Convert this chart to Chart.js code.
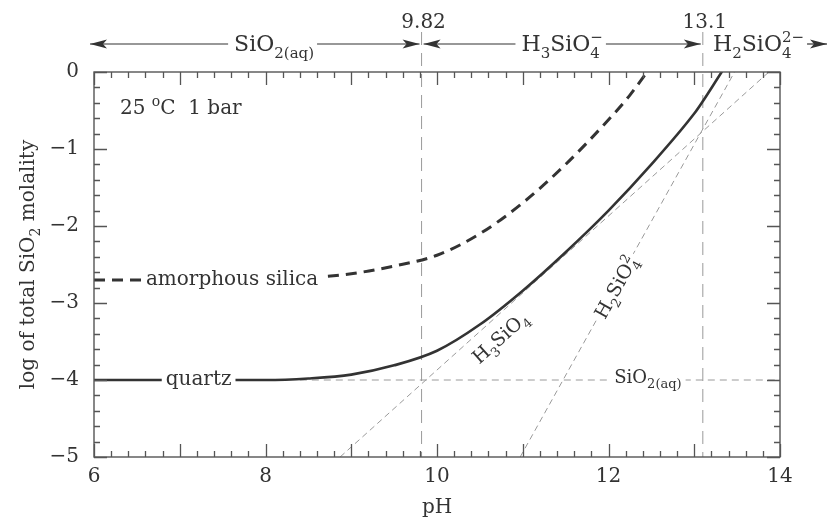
<!DOCTYPE html>
<html>
<head>
<meta charset="utf-8">
<script src="https://cdn.jsdelivr.net/npm/chart.js@4.4.1/dist/chart.umd.min.js"></script>
<style>
  html, body { margin: 0; padding: 0; background: #fff; }
  #wrap { width: 828px; height: 525px; }
</style>
</head>
<body>
<div id="wrap"><canvas id="c"></canvas></div>
<script>
// values: pH vs log of total SiO2 molality
var quartzPH     = [6, 7, 8, 8.5, 9, 9.5, 10, 10.5, 11, 11.5, 12, 12.5, 13, 13.1, 13.32, 13.5];
var quartzLogM   = [-4.0, -4.0, -4.0, -3.98, -3.93, -3.81, -3.62, -3.28, -2.84, -2.34, -1.8, -1.2, -0.54, -0.38, 0, 0.3];
var amorphPH     = [6, 7, 8, 8.5, 9, 9.5, 10, 10.5, 11, 11.5, 12, 12.25, 12.5];
var amorphLogM   = [-2.7, -2.7, -2.69, -2.67, -2.62, -2.52, -2.38, -2.1, -1.7, -1.2, -0.62, -0.3, 0.08];
var sio2aqPH     = [8.4, 14];
var sio2aqLogM   = [-4, -4];
var h3sio4PH     = [8.87, 13.87];
var h3sio4LogM   = [-5, 0];
var h2sio4PH     = [10.97, 13.47];
var h2sio4LogM   = [-5, 0];
var boundaryPH   = [9.82, 13.1];
var boundaryText = ['9.82', '13.1'];
var topLabelPH   = [8.1, 11.46, 13.75];
var xTicks       = [6, 8, 10, 12, 14];
var yTicks       = [-5, -4, -3, -2, -1, 0];

var SERIF = '"DejaVu Serif", serif';
var INK = '#333';
var GREY = '#9a9a9a';

function pts(xs, ys) {
  return xs.map(function(x, i) { return {x: x, y: ys[i]}; });
}

// parts: [[normal, subscript, superscript], ...]
function partsWidth(ctx, parts, size) {
  var w = 0;
  parts.forEach(function(p) {
    ctx.font = size + 'px ' + SERIF;
    w += ctx.measureText(p[0]).width;
    ctx.font = Math.round(size * 0.7) + 'px ' + SERIF;
    var a = p[1] ? ctx.measureText(p[1]).width : 0;
    var b = p[2] ? ctx.measureText(p[2]).width : 0;
    w += Math.max(a, b);
  });
  return w;
}

function drawRich(ctx, parts, x, y, size) {
  var small = Math.round(size * 0.7);
  parts.forEach(function(p) {
    ctx.font = size + 'px ' + SERIF;
    ctx.fillText(p[0], x, y);
    x += ctx.measureText(p[0]).width;
    ctx.font = small + 'px ' + SERIF;
    var a = 0, b = 0;
    if (p[1]) { ctx.fillText(p[1], x, y + size * 0.3); a = ctx.measureText(p[1]).width; }
    if (p[2]) { ctx.fillText(p[2], x, y - size * 0.42); b = ctx.measureText(p[2]).width; }
    x += Math.max(a, b);
  });
}

function drawRichCentered(ctx, parts, cx, y, size, bg) {
  var w = partsWidth(ctx, parts, size);
  if (bg) {
    ctx.fillStyle = '#fff';
    ctx.fillRect(cx - w / 2 - 4, y - size * 0.8, w + 8, size * 1.25);
  }
  ctx.fillStyle = INK;
  drawRich(ctx, parts, cx - w / 2, y, size);
  return w;
}

function arrowHead(ctx, x, y, dir) {
  ctx.beginPath();
  ctx.moveTo(x, y);
  ctx.lineTo(x - dir * 17, y - 4.5);
  ctx.lineTo(x - dir * 13, y);
  ctx.lineTo(x - dir * 17, y + 4.5);
  ctx.closePath();
  ctx.fill();
}

function hline(ctx, x1, x2, y) {
  ctx.beginPath(); ctx.moveTo(x1, y); ctx.lineTo(x2, y); ctx.stroke();
}

var decorPlugin = {
  id: 'decor',
  beforeDatasetsDraw: function(chart) {
    var ctx = chart.ctx, xs = chart.scales.x, ys = chart.scales.y;
    ctx.save();
    ctx.strokeStyle = GREY;
    ctx.lineWidth = 1;
    ctx.setLineDash([13, 8]);
    boundaryPH.forEach(function(v) {
      var x = xs.getPixelForValue(v);
      ctx.beginPath(); ctx.moveTo(x, 32); ctx.lineTo(x, ys.bottom); ctx.stroke();
    });
    ctx.restore();
  },
  afterDatasetsDraw: function(chart) {
    var ctx = chart.ctx, xs = chart.scales.x, ys = chart.scales.y;
    var X = function(v) { return xs.getPixelForValue(v); };
    var Y = function(v) { return ys.getPixelForValue(v); };
    ctx.save();
    ctx.setLineDash([]);
    ctx.textAlign = 'left';
    ctx.textBaseline = 'alphabetic';

    // frame and inward ticks
    ctx.strokeStyle = '#555';
    ctx.lineWidth = 1.4;
    ctx.strokeRect(xs.left, ys.top, xs.right - xs.left, ys.bottom - ys.top);
    ctx.lineWidth = 1.3;
    ctx.beginPath();
    for (var i = 0; i <= 40; i++) {
      var x = Math.round(X(6 + i * 0.2)) + 0.5, len = i % 5 === 0 ? 13 : 6;
      ctx.moveTo(x, ys.bottom); ctx.lineTo(x, ys.bottom - len);
      ctx.moveTo(x, ys.top); ctx.lineTo(x, ys.top + len);
    }
    for (var j = 0; j <= 25; j++) {
      var y = Math.round(Y(-5 + j * 0.2)) + 0.5, ln = j % 5 === 0 ? 13 : 6;
      ctx.moveTo(xs.left, y); ctx.lineTo(xs.left + ln, y);
      ctx.moveTo(xs.right, y); ctx.lineTo(xs.right - ln, y);
    }
    ctx.stroke();

    // curve labels
    drawRichCentered(ctx, [['quartz', '', '']], X(7.22), Y(-4) + 5, 20, true);
    drawRichCentered(ctx, [['amorphous silica', '', '']], X(7.61), Y(-2.7) + 5, 20, true);
    drawRichCentered(ctx, [['SiO', '2(aq)', '']], X(12.46), Y(-4) + 3, 18, true);
    ctx.fillStyle = INK;
    drawRich(ctx, [['25 ', '', 'o'], ['C  1 bar', '', '']], xs.left + 26, ys.top + 42, 20);

    var a3 = Math.atan2(Y(h3sio4LogM[1]) - Y(h3sio4LogM[0]), X(h3sio4PH[1]) - X(h3sio4PH[0]));
    ctx.save();
    ctx.translate(X(10.74), Y(-3.45));
    ctx.rotate(a3);
    drawRichCentered(ctx, [['H', '3', ''], ['SiO', '4', '']], 0, 6, 19, false);
    ctx.restore();

    var a2 = Math.atan2(Y(h2sio4LogM[1]) - Y(h2sio4LogM[0]), X(h2sio4PH[1]) - X(h2sio4PH[0]));
    ctx.save();
    ctx.translate(X(12.09), Y(-2.8));
    ctx.rotate(a2);
    drawRichCentered(ctx, [['H', '2', ''], ['SiO', '4', '2']], 0, 6, 19, true);
    ctx.restore();

    // species fields along the top
    var p0 = xs.left - 4, p1 = X(boundaryPH[0]), p2 = X(boundaryPH[1]);
    var ay = 44, ty = 51;
    ctx.fillStyle = INK;
    ctx.strokeStyle = INK;
    ctx.lineWidth = 1.2;
    var labels = [
      [['SiO', '2(aq)', '']],
      [['H', '3', ''], ['SiO', '4', '\u2212']],
      [['H', '2', ''], ['SiO', '4', '2\u2212']]
    ];
    var edges = [[p0, p1 - 2], [p1 + 2, p2 - 2], [null, chart.width - 1]];
    labels.forEach(function(parts, k) {
      var cx = X(topLabelPH[k]);
      var w = drawRichCentered(ctx, parts, cx, ty, 22, false);
      ctx.strokeStyle = INK;
      if (edges[k][0] !== null) {
        hline(ctx, edges[k][0], cx - w / 2 - 6, ay);
        arrowHead(ctx, edges[k][0], ay, -1);
      }
      hline(ctx, cx + w / 2 + 3, edges[k][1], ay);
      arrowHead(ctx, edges[k][1], ay, 1);
    });
    boundaryText.forEach(function(t, k) {
      drawRichCentered(ctx, [[t, '', '']], X(boundaryPH[k]) + 2, 28, 20, false);
    });

    // axis titles
    drawRichCentered(ctx, [['pH', '', '']], (xs.left + xs.right) / 2, 513, 20, false);
    ctx.save();
    ctx.translate(27, (ys.top + ys.bottom) / 2);
    ctx.rotate(-Math.PI / 2);
    drawRichCentered(ctx, [['log of total SiO', '2', ''], [' molality', '', '']], 0, 7, 20, false);
    ctx.restore();

    ctx.restore();
  }
};

window.onload = function() {
  var ctx = document.getElementById('c').getContext('2d');
  new Chart(ctx, {
    type: 'scatter',
    data: {
      datasets: [
        { data: pts(quartzPH, quartzLogM), borderColor: INK, borderWidth: 2.6, cubicInterpolationMode: 'monotone' },
        { data: pts(amorphPH, amorphLogM), borderColor: INK, borderWidth: 3, borderDash: [11, 7], cubicInterpolationMode: 'monotone' },
        { data: pts(sio2aqPH, sio2aqLogM), borderColor: GREY, borderWidth: 1, borderDash: [7, 5] },
        { data: pts(h3sio4PH, h3sio4LogM), borderColor: GREY, borderWidth: 1, borderDash: [6, 4] },
        { data: pts(h2sio4PH, h2sio4LogM), borderColor: GREY, borderWidth: 1, borderDash: [6, 4] }
      ].map(function(d) { d.showLine = true; d.pointRadius = 0; d.fill = false; return d; })
    },
    options: {
      responsive: true,
      maintainAspectRatio: false,
      animation: false,
      layout: { padding: { left: 0, top: 72, right: 48, bottom: 0 } },
      plugins: { legend: { display: false }, tooltip: { enabled: false } },
      scales: {
        x: {
          type: 'linear', min: 6, max: 14,
          afterBuildTicks: function(s) { s.ticks = xTicks.map(function(v) { return {value: v}; }); },
          afterFit: function(s) { s.height = 68; },
          grid: { display: false, drawTicks: false },
          border: { display: false },
          ticks: { font: { family: SERIF, size: 20 }, color: INK, padding: 8, maxRotation: 0 }
        },
        y: {
          type: 'linear', min: -5, max: 0,
          afterBuildTicks: function(s) { s.ticks = yTicks.map(function(v) { return {value: v}; }); },
          afterFit: function(s) { s.width = 94; },
          grid: { display: false, drawTicks: false },
          border: { display: false },
          ticks: {
            font: { family: SERIF, size: 20 }, color: INK, padding: 15,
            callback: function(v) { return v < 0 ? '\u2212' + Math.abs(v) : String(v); }
          }
        }
      }
    },
    plugins: [decorPlugin]
  });
};
</script>
</body>
</html>
